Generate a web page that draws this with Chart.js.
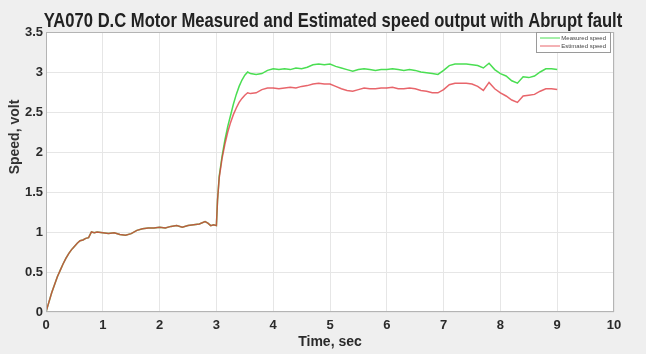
<!DOCTYPE html>
<html>
<head>
<meta charset="utf-8">
<script src="https://cdn.jsdelivr.net/npm/chart.js@4/dist/chart.umd.min.js"></script>
<style>
  html, body { margin: 0; padding: 0; background: #efefef; }
  canvas { display: block; }
</style>
</head>
<body>
<canvas id="speedChart" width="646" height="354"></canvas>
<script>
// tiempos (s) y velocidades (V)
const earlyTime = [0, 0.05, 0.1, 0.15, 0.2, 0.25, 0.3, 0.35, 0.4, 0.45, 0.5, 0.55, 0.6, 0.65, 0.7, 0.75, 0.8, 0.85, 0.9,
  1.0, 1.1, 1.2, 1.3, 1.4, 1.5, 1.6, 1.7, 1.8, 1.9, 2.0, 2.1, 2.2, 2.3, 2.4, 2.5, 2.6, 2.7, 2.8,
  2.85, 2.9, 2.95, 3.0];
// antes de 3 s las dos curvas coinciden
const earlySpeed = [0, 0.12, 0.24, 0.34, 0.44, 0.52, 0.6, 0.67, 0.73, 0.78, 0.82, 0.86, 0.89, 0.9, 0.92, 0.93, 1.0, 0.99, 1.0,
  0.99, 0.98, 0.99, 0.97, 0.96, 0.98, 1.02, 1.04, 1.05, 1.05, 1.06, 1.05, 1.07, 1.08, 1.06, 1.08, 1.09, 1.1, 1.13,
  1.11, 1.08, 1.09, 1.08];

const lateTime = [3.02, 3.05, 3.1, 3.15, 3.2, 3.25, 3.3, 3.35, 3.4, 3.45, 3.5, 3.55, 3.6,
  3.7, 3.8, 3.9, 4.0, 4.1, 4.2, 4.3, 4.4, 4.5, 4.6, 4.7, 4.8, 4.9, 5.0, 5.1, 5.2, 5.3, 5.4, 5.5,
  5.6, 5.7, 5.8, 5.9, 6.0, 6.1, 6.2, 6.3, 6.4, 6.5, 6.6, 6.7, 6.8, 6.9, 7.0, 7.1, 7.2, 7.3, 7.4,
  7.5, 7.6, 7.7, 7.8, 7.9, 8.0, 8.1, 8.2, 8.3, 8.4, 8.5, 8.6, 8.7, 8.8, 8.9, 9.0];
const measuredLate = [1.4, 1.7, 1.95, 2.15, 2.32, 2.46, 2.6, 2.72, 2.82, 2.9, 2.96, 3.0, 2.98,
  2.97, 2.98, 3.02, 3.04, 3.03, 3.04, 3.03, 3.05, 3.04, 3.06, 3.09, 3.1, 3.09, 3.1, 3.07, 3.05, 3.03, 3.01, 3.03,
  3.04, 3.03, 3.02, 3.03, 3.03, 3.04, 3.03, 3.02, 3.03, 3.02, 3.0, 2.99, 2.98, 2.97, 3.02, 3.08, 3.1, 3.1, 3.1,
  3.09, 3.08, 3.05, 3.11, 3.03, 2.98, 2.95, 2.89, 2.86, 2.94, 2.93, 2.95, 3.0, 3.04, 3.04, 3.03];
const estimatedLate = [1.4, 1.68, 1.92, 2.1, 2.25, 2.37, 2.47, 2.55, 2.62, 2.67, 2.71, 2.74, 2.73,
  2.74, 2.78, 2.8, 2.8, 2.79, 2.8, 2.81, 2.8, 2.82, 2.83, 2.85, 2.86, 2.85, 2.85, 2.82, 2.79, 2.77, 2.76, 2.78,
  2.8, 2.79, 2.79, 2.8, 2.8, 2.81, 2.79, 2.79, 2.8, 2.79, 2.77, 2.76, 2.74, 2.74, 2.78, 2.84, 2.86, 2.86, 2.86,
  2.85, 2.82, 2.77, 2.87, 2.79, 2.74, 2.7, 2.65, 2.62, 2.7, 2.71, 2.72, 2.76, 2.79, 2.79, 2.78];

const xTicks = [0, 1, 2, 3, 4, 5, 6, 7, 8, 9, 10];
const yTicks = [0, 0.5, 1, 1.5, 2, 2.5, 3, 3.5];
const seriesNames = ['Measured speed', 'Estimated speed'];
const chartTitle = 'YA070 D.C Motor Measured and Estimated speed output with Abrupt fault';

const FONT = "'Liberation Sans', Arial, sans-serif";

const toPoints = (ts, vs) => ts.map((t, i) => ({ x: t, y: vs[i] }));
const measuredPts = toPoints(earlyTime.concat(lateTime), earlySpeed.concat(measuredLate));
const estimatedPts = toPoints(earlyTime.concat(lateTime), earlySpeed.concat(estimatedLate));

// caja del area del grafico, titulos y leyenda estilo MATLAB
const matlabDecor = {
  id: 'matlabDecor',
  beforeDraw(chart) {
    const { ctx, chartArea: a } = chart;
    ctx.save();
    ctx.fillStyle = '#efefef';
    ctx.fillRect(0, 0, chart.width, chart.height);
    ctx.fillStyle = '#ffffff';
    ctx.fillRect(a.left, a.top, a.right - a.left, a.bottom - a.top);
    ctx.restore();
  },
  afterDraw(chart) {
    const { ctx, chartArea: a } = chart;
    ctx.save();
    ctx.strokeStyle = '#b4b4b4';
    ctx.lineWidth = 1;
    ctx.strokeRect(a.left + 0.5, a.top + 0.5, a.right - a.left - 1, a.bottom - a.top - 1);

    // titulo principal (la imagen original esta algo estirada en vertical)
    ctx.save();
    ctx.translate(333, 27);
    ctx.scale(1, 1.2);
    ctx.fillStyle = '#222222';
    ctx.font = 'bold 16.6px ' + FONT;
    ctx.textAlign = 'center';
    ctx.textBaseline = 'alphabetic';
    ctx.fillText(chartTitle, 0, 0);
    ctx.restore();

    // titulo eje Y
    ctx.translate(15, 137);
    ctx.rotate(-Math.PI / 2);
    ctx.fillStyle = '#333333';
    ctx.font = 'bold 14px ' + FONT;
    ctx.textAlign = 'center';
    ctx.textBaseline = 'middle';
    ctx.fillText('Speed, volt', 0, 0);
    ctx.restore();

    // leyenda
    const lx = 536, ly = 32, lw = 74, lh = 20;
    ctx.save();
    ctx.fillStyle = '#ffffff';
    ctx.fillRect(lx, ly, lw, lh);
    ctx.strokeStyle = '#9a9a9a';
    ctx.strokeRect(lx + 0.5, ly + 0.5, lw, lh);
    ctx.font = '6px ' + FONT;
    ctx.textBaseline = 'middle';
    ctx.textAlign = 'right';
    chart.data.datasets.forEach((ds, i) => {
      const y = ly + 6 + i * 8;
      ctx.strokeStyle = ds.borderColor;
      ctx.lineWidth = 1;
      ctx.beginPath();
      ctx.moveTo(lx + 4, y);
      ctx.lineTo(lx + 24, y);
      ctx.stroke();
      ctx.fillStyle = '#444444';
      ctx.fillText(seriesNames[i], lx + lw - 4, y);
    });
    ctx.restore();
  }
};

new Chart(document.getElementById('speedChart'), {
  type: 'line',
  data: {
    datasets: [{
      label: seriesNames[0],
      data: measuredPts,
      borderColor: '#4ade52',
      borderWidth: 1.5,
      pointRadius: 0,
      tension: 0,
      order: 1
    }, {
      label: seriesNames[1],
      data: estimatedPts,
      borderColor: 'rgba(224, 50, 58, 0.75)',
      borderWidth: 1.5,
      pointRadius: 0,
      tension: 0,
      order: 0
    }]
  },
  options: {
    responsive: false,
    animation: false,
    devicePixelRatio: 1,
    layout: { padding: { left: 0, right: 32, top: 32, bottom: 0 } },
    plugins: {
      legend: { display: false },
      tooltip: { enabled: false },
      title: { display: false }
    },
    scales: {
      x: {
        type: 'linear',
        min: 0,
        max: 10,
        afterBuildTicks: s => { s.ticks = xTicks.map(v => ({ value: v })); },
        afterFit: s => { s.height = 42; },
        grid: { color: '#e6e6e6', drawTicks: false },
        border: { display: false },
        ticks: { color: '#2a2a2a', padding: 6, maxRotation: 0, font: { family: FONT, size: 13, weight: 'bold' } },
        title: {
          display: true,
          text: 'Time, sec',
          color: '#2a2a2a',
          font: { family: FONT, size: 14, weight: 'bold' },
          padding: { top: 0, bottom: 3 }
        }
      },
      y: {
        min: 0,
        max: 3.5,
        afterBuildTicks: s => { s.ticks = yTicks.map(v => ({ value: v })); },
        afterFit: s => { s.width = 46; },
        grid: { color: '#e6e6e6', drawTicks: false },
        border: { display: false },
        ticks: {
          color: '#2a2a2a',
          padding: 3,
          font: { family: FONT, size: 13, weight: 'bold' },
          callback: v => String(v)
        }
      }
    }
  },
  plugins: [matlabDecor]
});
</script>
</body>
</html>
